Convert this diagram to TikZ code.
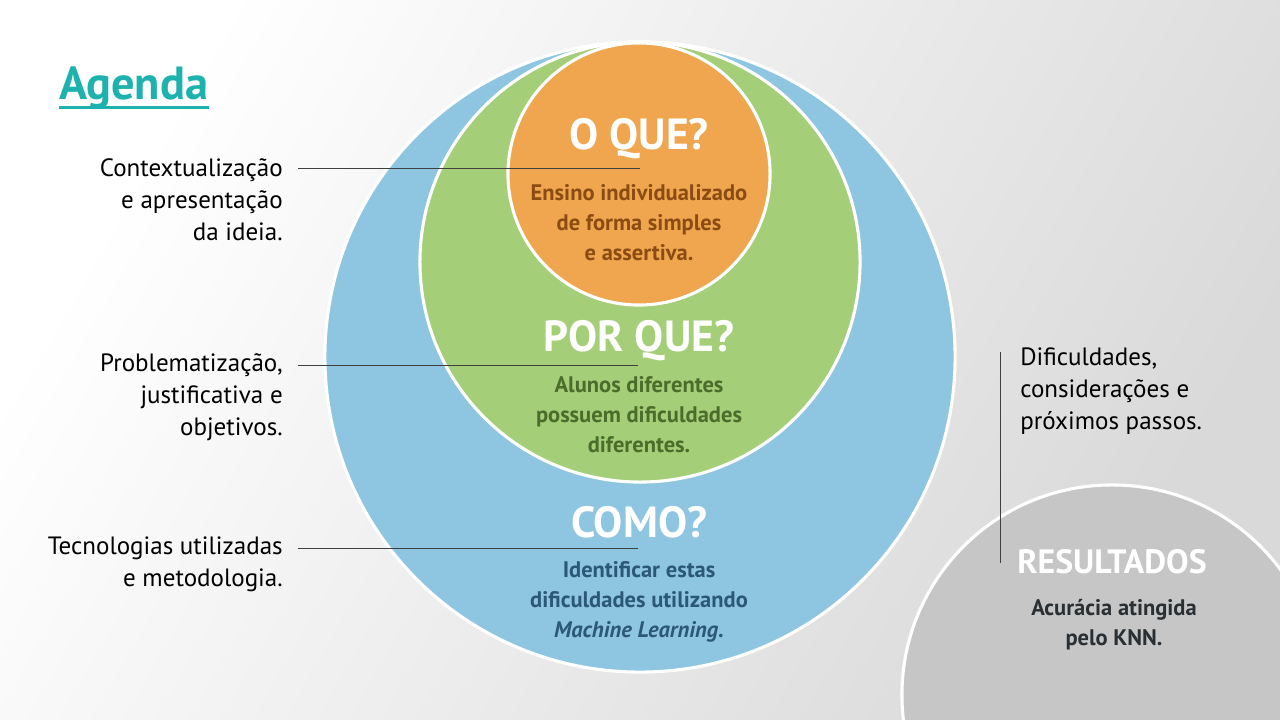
\documentclass[tikz,border=0pt]{standalone}
\usepackage{fontspec}
\setmainfont{PT Sans}
\usepackage{tikz}
\usetikzlibrary{positioning}

\definecolor{bluefill}{HTML}{8EC6E2}
\definecolor{greenfill}{HTML}{A4CF78}
\definecolor{orangefill}{HTML}{F0A64E}
\definecolor{grayfill}{HTML}{C6C6C6}
\definecolor{tealtext}{HTML}{1DB2AE}
\definecolor{browntext}{HTML}{8A4C12}
\definecolor{greentext}{HTML}{4B6C2A}
\definecolor{bluetext}{HTML}{2C5877}
\definecolor{darktext}{HTML}{2A2F33}

\begin{document}
\begin{tikzpicture}[x=0.025cm,y=-0.025cm,
    circ node/.style={circle,draw=white,line width=2.2pt,inner sep=0pt,minimum size=#1*0.05cm},
    title node/.style={text=white,font=\fontsize{31}{34}\selectfont\bfseries,inner sep=0pt},
    body node/.style={align=center,font=\fontsize{16}{21.3}\selectfont\bfseries,inner sep=0pt},
    label node/.style={align=right,anchor=east,inner sep=0pt,font=\fontsize{17.8}{22.8}\selectfont},
    conn/.style={draw=black!75,line width=0.7pt}]
  \useasboundingbox (0,0) rectangle (1280,720);
  \clip (0,0) rectangle (1280,720);
  \shade[left color=white,right color=black!15,shading angle=60] (0,0) rectangle (1280,720);

  % circles
  \node[circ node=315,fill=bluefill] (como) at (640,357) {};
  \node[circ node=220,fill=greenfill] (porque) at (640,262) {};
  \node[circ node=131,fill=orangefill] (oque) at (639,174) {};
  \node[circ node=210,fill=grayfill] (res) at (1112,695) {};

  \node[inner sep=0pt,anchor=base west,text=tealtext,font=\fontsize{33}{36}\selectfont\bfseries] (agenda) at (59,100) {Agenda};
  \draw[tealtext,line width=2.2pt] ([yshift=-5.5pt]agenda.base west) -- ([yshift=-5.5pt]agenda.base east);

  % left labels
  \node[label node] (ctx) at (283,200) {Contextualização\\e apresentação\\da ideia.};
  \node[label node] (prob) at (283,397) {Problematização,\\justificativa e\\objetivos.};
  \node[label node] (tec) at (283,564) {Tecnologias utilizadas\\e metodologia.};
  \coordinate (ctx end) at (640,168);
  \coordinate (prob end) at (638,365);
  \coordinate (tec end) at (638,548);
  \draw[conn,shorten >=0.375cm] (ctx end) -- (ctx end -| ctx.east);
  \draw[conn,shorten >=0.375cm] (prob end) -- (prob end -| prob.east);
  \draw[conn,shorten >=0.375cm] (tec end) -- (tec end -| tec.east);

  % right label
  \node[label node,align=left,anchor=west] (next) at (1020,391) {Dificuldades,\\considerações e\\próximos passos.};
  \coordinate (next top) at (1000,352);
  \coordinate (next bottom) at (1000,563);
  \draw[conn] (next top) -- (next bottom);

  % circle texts
  \node[title node] (oque title) at (639,139) {O QUE?};
  \node[body node,text=browntext] (oque text) at (639,223) {Ensino individualizado\\de forma simples\\e assertiva.};
  \node[title node] (porque title) at (639,341) {POR QUE?};
  \node[body node,text=greentext] (porque text) at (639,415) {Alunos diferentes\\possuem dificuldades\\diferentes.};
  \node[title node] (como title) at (639,522) {COMO?};
  \node[body node,text=bluetext] (como text) at (639,602) {Identificar estas\\dificuldades utilizando\\\textit{Machine Learning.}};
  \node[title node,font=\fontsize{24}{27}\selectfont\bfseries] (res title) at (1112,562) {RESULTADOS};
  \node[body node,text=darktext] (res text) at (1114,625) {Acurácia atingida\\pelo KNN.};
\end{tikzpicture}
\end{document}
